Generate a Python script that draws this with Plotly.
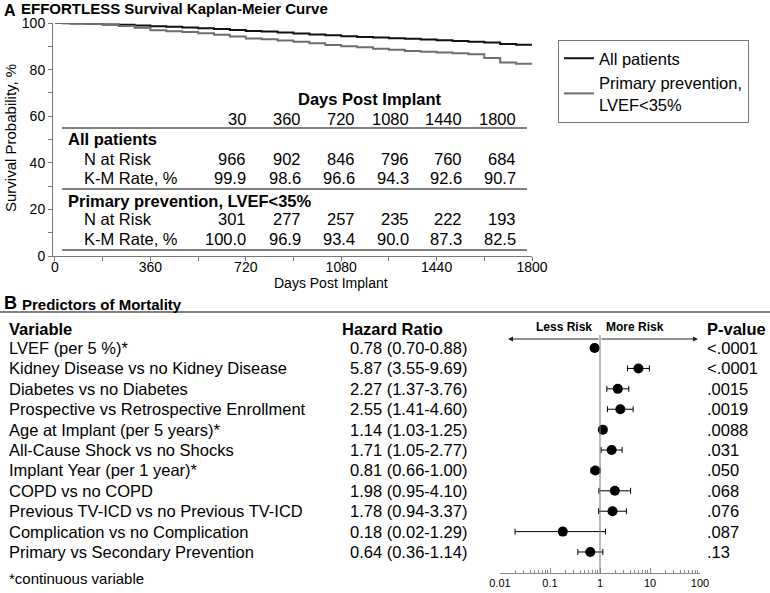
import plotly.graph_objects as go

W, H = 770, 593


def px(x):
    return x / W


def py(y):
    return 1 - y / H


FONT = "Liberation Sans, Arial, Helvetica, sans-serif"

# ---------------- Panel A data (Kaplan-Meier) ----------------
all_days = [0, 30, 60, 120, 180, 240, 300, 360, 420, 480, 540, 600, 660, 720, 780, 840,
            900, 960, 1020, 1080, 1140, 1200, 1260, 1320, 1380, 1440, 1500, 1560, 1620,
            1680, 1740, 1800]
all_surv = [100, 99.9, 99.8, 99.6, 99.4, 99.2, 98.9, 98.6, 98.4, 98.1, 97.8, 97.4, 97.0,
            96.6, 96.3, 95.9, 95.5, 95.1, 94.7, 94.3, 94.0, 93.8, 93.5, 93.2, 92.9, 92.6,
            92.3, 92.0, 91.6, 91.0, 90.7, 90.7]
prim_days = [0, 30, 60, 120, 180, 240, 300, 360, 420, 480, 540, 600, 660, 720, 780, 840,
             900, 960, 1020, 1080, 1140, 1200, 1260, 1320, 1380, 1440, 1500, 1560, 1620,
             1680, 1740, 1800]
prim_surv = [100, 100.0, 99.9, 99.6, 99.3, 98.7, 98.0, 96.9, 96.5, 96.1, 95.6, 95.0, 94.2,
             93.4, 93.0, 92.5, 92.0, 91.3, 90.6, 90.0, 89.6, 89.0, 88.5, 88.0, 87.7, 87.3,
             87.0, 86.6, 85.0, 83.0, 82.5, 82.5]

risk_days = [30, 360, 720, 1080, 1440, 1800]
all_n = [966, 902, 846, 796, 760, 684]
all_km = ["99.9", "98.6", "96.6", "94.3", "92.6", "90.7"]
prim_n = [301, 277, 257, 235, 222, 193]
prim_km = ["100.0", "96.9", "93.4", "90.0", "87.3", "82.5"]

x_ticks = [0, 360, 720, 1080, 1440, 1800]
y_ticks = [0, 20, 40, 60, 80, 100]

# ---------------- Panel B data (forest plot) ----------------
variables = [
    "LVEF (per 5 %)*",
    "Kidney Disease vs no Kidney Disease",
    "Diabetes vs no Diabetes",
    "Prospective vs Retrospective Enrollment",
    "Age at Implant (per 5 years)*",
    "All-Cause Shock vs no Shocks",
    "Implant Year (per 1 year)*",
    "COPD vs no COPD",
    "Previous TV-ICD vs no Previous TV-ICD",
    "Complication vs no Complication",
    "Primary vs Secondary Prevention",
]
hr = [0.78, 5.87, 2.27, 2.55, 1.14, 1.71, 0.81, 1.98, 1.78, 0.18, 0.64]
ci_low = [0.70, 3.55, 1.37, 1.41, 1.03, 1.05, 0.66, 0.95, 0.94, 0.02, 0.36]
ci_high = [0.88, 9.69, 3.76, 4.60, 1.25, 2.77, 1.00, 4.10, 3.37, 1.29, 1.14]
pvals = ["&lt;.0001", "&lt;.0001", ".0015", ".0019", ".0088", ".031", ".050", ".068",
         ".076", ".087", ".13"]
forest_ticks = [0.01, 0.1, 1, 10, 100]
forest_ticktext = ["0.01", "0.1", "1", "10", "100"]

rows = list(range(len(variables)))

fig = go.Figure()

# KM curves
fig.add_trace(go.Scatter(x=all_days, y=all_surv, mode="lines", name="All patients",
                         line=dict(shape="hv", color="#111111", width=2),
                         xaxis="x", yaxis="y"))
fig.add_trace(go.Scatter(x=prim_days, y=prim_surv, mode="lines",
                         name="Primary prevention,<br>LVEF&lt;35%",
                         line=dict(shape="hv", color="#6e6e6e", width=2),
                         xaxis="x", yaxis="y"))

# Forest plot
fig.add_trace(go.Scatter(
    x=hr, y=rows, mode="markers", showlegend=False,
    marker=dict(color="black", size=10),
    error_x=dict(type="data", symmetric=False,
                 array=[h - v for v, h in zip(hr, ci_high)],
                 arrayminus=[v - l for v, l in zip(hr, ci_low)],
                 color="black", thickness=1, width=3),
    xaxis="x2", yaxis="y2"))

annotations = []
shapes = []

# ---- Panel A texts ----
annotations.append(dict(x=px(2), y=py(10), xref="paper", yref="paper", text="<b>A</b>",
                        showarrow=False, xanchor="left", yanchor="middle",
                        font=dict(size=16, family=FONT, color="black")))
annotations.append(dict(x=px(19), y=py(9), xref="paper", yref="paper",
                        text="<b>EFFORTLESS Survival Kaplan-Meier Curve</b>",
                        showarrow=False, xanchor="left", yanchor="middle",
                        font=dict(size=15, family=FONT, color="black")))
annotations.append(dict(x=px(10), y=py(138), xref="paper", yref="paper",
                        text="Survival Probability, %", textangle=-90,
                        showarrow=False, xanchor="center", yanchor="middle",
                        font=dict(size=15, family=FONT, color="black")))
annotations.append(dict(x=px(331), y=py(283), xref="paper", yref="paper",
                        text="Days Post Implant", showarrow=False,
                        xanchor="center", yanchor="middle",
                        font=dict(size=14, family=FONT, color="black")))

# risk table
TF = dict(size=16.5, family=FONT, color="black")
col_right = [248, 303, 357, 411, 464, 518]
annotations.append(dict(x=px(370), y=py(99), xref="paper", yref="paper",
                        text="<b>Days Post Implant</b>", showarrow=False,
                        xanchor="center", yanchor="middle", font=TF))
for xr, d in zip(col_right, risk_days):
    annotations.append(dict(x=px(xr), y=py(119), xref="paper", yref="paper", text=str(d),
                            showarrow=False, xanchor="right", yanchor="middle", font=TF))
annotations.append(dict(x=px(66), y=py(139), xref="paper", yref="paper",
                        text="<b>All patients</b>", showarrow=False,
                        xanchor="left", yanchor="middle", font=TF))
annotations.append(dict(x=px(66), y=py(201), xref="paper", yref="paper",
                        text="<b>Primary prevention, LVEF&lt;35%</b>", showarrow=False,
                        xanchor="left", yanchor="middle", font=TF))
for label, yy in [("N at Risk", 159), ("K-M Rate, %", 178), ("N at Risk", 219),
                  ("K-M Rate, %", 239)]:
    annotations.append(dict(x=px(82), y=py(yy), xref="paper", yref="paper", text=label,
                            showarrow=False, xanchor="left", yanchor="middle", font=TF))
for vals, yy in [(all_n, 159), (all_km, 178), (prim_n, 219), (prim_km, 239)]:
    for xr, v in zip(col_right, vals):
        annotations.append(dict(x=px(xr), y=py(yy), xref="paper", yref="paper",
                                text=str(v), showarrow=False, xanchor="right",
                                yanchor="middle", font=TF))
for yy in [128, 189, 250]:
    shapes.append(dict(type="line", xref="paper", yref="paper", x0=px(62), x1=px(527),
                       y0=py(yy), y1=py(yy), line=dict(color="#555555", width=1.5)))

# ---- Panel B texts ----
annotations.append(dict(x=px(2), y=py(303), xref="paper", yref="paper", text="<b>B</b>",
                        showarrow=False, xanchor="left", yanchor="middle",
                        font=dict(size=18, family=FONT, color="black")))
annotations.append(dict(x=px(20), y=py(304), xref="paper", yref="paper",
                        text="<b>Predictors of Mortality</b>",
                        showarrow=False, xanchor="left", yanchor="middle",
                        font=dict(size=15, family=FONT, color="black")))
shapes.append(dict(type="line", xref="paper", yref="paper", x0=0, x1=1,
                   y0=py(312), y1=py(312), line=dict(color="#555555", width=1.5)))

HF = dict(size=16.5, family=FONT, color="black")
annotations.append(dict(x=px(7), y=py(329), xref="paper", yref="paper",
                        text="<b>Variable</b>", showarrow=False, xanchor="left",
                        yanchor="middle", font=HF))
annotations.append(dict(x=px(340), y=py(329), xref="paper", yref="paper",
                        text="<b>Hazard Ratio</b>", showarrow=False, xanchor="left",
                        yanchor="middle", font=HF))
annotations.append(dict(x=px(705), y=py(329), xref="paper", yref="paper",
                        text="<b>P-value</b>", showarrow=False, xanchor="left",
                        yanchor="middle", font=HF))
annotations.append(dict(x=px(594), y=py(327), xref="paper", yref="paper",
                        text="<b>Less Risk</b>", showarrow=False, xanchor="right",
                        yanchor="middle", font=dict(size=12, family=FONT, color="black")))
annotations.append(dict(x=px(604), y=py(327), xref="paper", yref="paper",
                        text="<b>More Risk</b>", showarrow=False, xanchor="left",
                        yanchor="middle", font=dict(size=12, family=FONT, color="black")))
# arrows
annotations.append(dict(x=px(508), y=py(339), xref="paper", yref="paper", text="",
                        showarrow=True, ax=92, ay=0, arrowhead=2, arrowsize=1,
                        arrowwidth=1, arrowcolor="#222222"))
annotations.append(dict(x=px(698), y=py(339), xref="paper", yref="paper", text="",
                        showarrow=True, ax=-98, ay=0, arrowhead=2, arrowsize=1,
                        arrowwidth=1, arrowcolor="#222222"))

RF = dict(size=16.5, family=FONT, color="black")
for i, (v, h, lo, hi, p) in enumerate(zip(variables, hr, ci_low, ci_high, pvals)):
    annotations.append(dict(x=px(7), y=i, xref="paper", yref="y2", text=v,
                            showarrow=False, xanchor="left", yanchor="middle", font=RF))
    annotations.append(dict(x=px(348), y=i, xref="paper", yref="y2",
                            text=f"{h:.2f} ({lo:.2f}-{hi:.2f})",
                            showarrow=False, xanchor="left", yanchor="middle", font=RF))
    annotations.append(dict(x=px(705), y=i, xref="paper", yref="y2", text=p,
                            showarrow=False, xanchor="left", yanchor="middle", font=RF))
annotations.append(dict(x=px(7), y=py(578), xref="paper", yref="paper",
                        text="*continuous variable", showarrow=False, xanchor="left",
                        yanchor="middle", font=dict(size=15, family=FONT, color="black")))

# reference line at HR = 1
shapes.append(dict(type="line", xref="x2", yref="y2 domain", x0=1, x1=1, y0=0, y1=1,
                   line=dict(color="#777777", width=1)))

minor_log = [m * 10 ** e for e in (-2, -1, 0, 1) for m in range(2, 10)]

fig.update_layout(
    width=W, height=H,
    margin=dict(l=0, r=0, t=0, b=0, pad=0, autoexpand=False),
    paper_bgcolor="white", plot_bgcolor="white",
    font=dict(family=FONT, color="black"),
    showlegend=True,
    legend=dict(x=px(558), y=py(40), xanchor="left", yanchor="top",
                bordercolor="#777777", borderwidth=1, bgcolor="white",
                font=dict(size=16.5, family=FONT, color="black"),
                tracegroupgap=0),
    xaxis=dict(domain=[px(53), px(532)], range=[-7.5, 1800], anchor="y",
               tickmode="array", tickvals=x_ticks, ticks="outside", ticklen=4,
               tickcolor="#777777", showline=True, linecolor="#777777",
               showgrid=False, zeroline=False, ticklabelstandoff=-6,
               tickfont=dict(size=14, family=FONT, color="black"),
               minor=dict(tickvals=[180, 540, 900, 1260, 1620], ticks="outside",
                          ticklen=4, tickcolor="#777777", showgrid=False)),
    yaxis=dict(domain=[py(256), py(23)], range=[0, 100], anchor="x",
               tickmode="array", tickvals=y_ticks, ticks="outside", ticklen=4,
               tickcolor="#777777", showline=True, linecolor="#777777",
               showgrid=False, zeroline=False,
               tickfont=dict(size=14, family=FONT, color="black"),
               minor=dict(tickvals=[10, 30, 50, 70, 90], ticks="outside",
                          ticklen=4, tickcolor="#777777", showgrid=False)),
    xaxis2=dict(domain=[px(500), px(700)], type="log", range=[-2, 2], anchor="y2",
                tickmode="array", tickvals=forest_ticks, ticktext=forest_ticktext,
                ticks="inside", ticklen=5, tickcolor="#888888", showline=True,
                linecolor="#888888", showgrid=False, zeroline=False,
                tickfont=dict(size=11, family=FONT, color="black"),
                minor=dict(tickvals=minor_log, ticks="inside", ticklen=3,
                           tickcolor="#888888", showgrid=False)),
    yaxis2=dict(domain=[py(573), py(335)], range=[11.03, -0.64], anchor="x2",
                visible=False, showgrid=False, zeroline=False),
    annotations=annotations,
    shapes=shapes,
)

fig.write_html("out.html", config={"displayModeBar": False},
               post_script="document.body.style.margin='0';")
